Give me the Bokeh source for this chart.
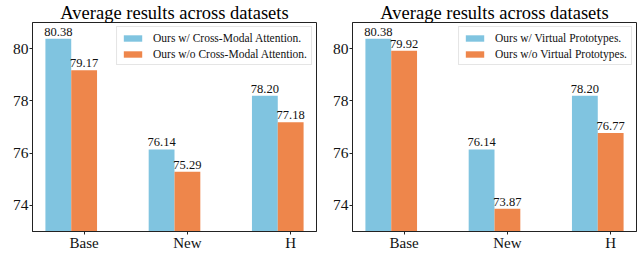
from bokeh.plotting import figure
from bokeh.layouts import row
from bokeh.models import Range1d, FixedTicker, ColumnDataSource, Legend, LegendItem
from bokeh.core.properties import value
from bokeh.embed import file_html
from bokeh.resources import INLINE

categories = ["Base", "New", "H"]
with_cma = [80.38, 76.14, 78.20]
without_cma = [79.17, 75.29, 77.18]
with_vp = [80.38, 76.14, 78.20]
without_vp = [79.92, 73.87, 76.77]
legend_left = ["Ours w/ Cross-Modal Attention.", "Ours w/o Cross-Modal Attention."]
legend_right = ["Ours w/ Virtual Prototypes.", "Ours w/o Virtual Prototypes."]
y_ticks = [74, 76, 78, 80]
title_text = "Average results across datasets"

BLUE = "#80C4E0"
ORANGE = "#EE864B"
FONT = "Liberation Serif"
BAR_W = 0.25


def make_panel(vals_a, vals_b, labels, width, bl, br):
    p = figure(width=width, height=253, output_backend="svg", toolbar_location=None,
               x_range=Range1d(-0.25, 2.5), y_range=Range1d(73, 81),
               min_border_left=bl, min_border_right=br, min_border_top=0, min_border_bottom=0)
    idx = list(range(len(categories)))
    src_a = ColumnDataSource(dict(x=idx, top=vals_a, lab=["%.2f" % v for v in vals_a]))
    src_b = ColumnDataSource(dict(x=[i + BAR_W for i in idx], top=vals_b, lab=["%.2f" % v for v in vals_b]))
    ra = p.vbar(x="x", top="top", bottom=73, width=BAR_W, source=src_a, fill_color=BLUE, line_color=None)
    rb = p.vbar(x="x", top="top", bottom=73, width=BAR_W, source=src_b, fill_color=ORANGE, line_color=None)
    for s in (src_a, src_b):
        p.text(x="x", y="top", text="lab", source=s, text_font=value(FONT), text_font_size="12.5px",
               text_align="center", text_baseline="bottom", y_offset=-3, text_color="#111111")
    p.title.text = title_text
    p.title.text_font = FONT
    p.title.text_font_size = "18.5px"
    p.title.text_font_style = "normal"
    p.title.text_color = "#000000"
    p.title.align = "center"
    p.title.standoff = 0
    p.title.offset = 0

    p.xgrid.visible = False
    p.ygrid.visible = False
    p.xaxis.ticker = FixedTicker(ticks=[i + BAR_W for i in idx])
    p.xaxis.major_label_overrides = {i + BAR_W: c for i, c in zip(idx, categories)}
    p.yaxis.ticker = FixedTicker(ticks=y_ticks)
    for ax in (p.xaxis, p.yaxis):
        ax.major_label_text_font = FONT
        ax.major_label_text_color = "#111111"
        ax.axis_line_color = "#222222"
        ax.major_tick_line_color = "#222222"
        ax.major_tick_out = 3
        ax.major_tick_in = 0
        ax.minor_tick_out = 0
        ax.minor_tick_in = 0
        ax.major_label_standoff = 1
        ax.axis_label_standoff = 0
    p.xaxis.major_label_standoff = 0
    p.xaxis.major_label_text_font_size = "15px"
    p.yaxis.major_label_text_font_size = "15.5px"
    p.outline_line_color = "#222222"
    p.outline_line_alpha = 1
    p.outline_line_width = 1

    legend = Legend(items=[LegendItem(label=labels[0], renderers=[ra]),
                           LegendItem(label=labels[1], renderers=[rb])],
                    location="top_right")
    legend.label_text_font = FONT
    legend.label_text_font_size = "11.5px"
    legend.label_text_color = "#111111"
    legend.glyph_width = 23
    legend.glyph_height = 8
    legend.label_height = 13
    legend.label_standoff = 9
    legend.spacing = 3
    legend.padding = 4
    legend.margin = 4
    legend.border_line_color = "#cccccc"
    legend.border_line_width = 1
    legend.background_fill_alpha = 0.8
    p.add_layout(legend)
    return p


p1 = make_panel(with_cma, without_cma, legend_left, 320, 32, 4)
p2 = make_panel(with_vp, without_vp, legend_right, 319, 32, 3)
p = row(p1, p2)

open("out.html", "w").write(file_html(p, INLINE))
